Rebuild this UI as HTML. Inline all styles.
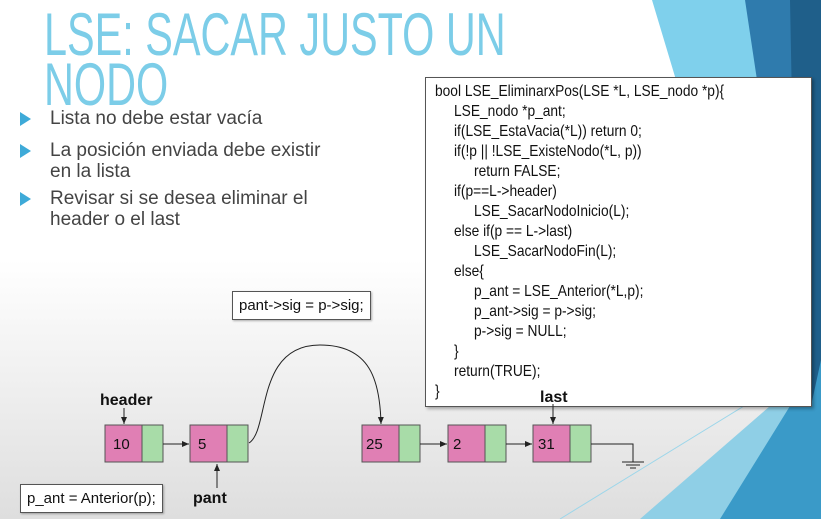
<!DOCTYPE html>
<html><head><meta charset="utf-8"><style>
body{margin:0;width:821px;height:519px;overflow:hidden;position:relative;font-family:"Liberation Sans",sans-serif;background:linear-gradient(#ffffff 0%,#ffffff 50%,#dedede 100%)}
.abs{position:absolute;white-space:nowrap}
.title{color:#7ccde8;font-size:60px;transform-origin:0 0;transform:scaleX(0.69);left:44px}
.bul{font-size:19px;color:#444;left:50px;line-height:21px}
.tri{position:absolute;left:20px;width:0;height:0;border-left:11px solid #3eaad8;border-top:7px solid transparent;border-bottom:7px solid transparent}
.code{left:425px;top:77px;width:385px;height:328px;border:1px solid #555;background:#fff;box-shadow:2px 2px 3px rgba(0,0,0,.3)}
.cl{position:absolute;font-size:16px;color:#111;transform-origin:0 0;transform:scaleX(0.86);white-space:nowrap}
.lab{font-size:15px;color:#111;border:1px solid #555;background:#fff;padding:0 6px;box-shadow:1px 1px 2px rgba(0,0,0,.3)}
</style></head><body>
<svg class="abs" style="left:0;top:0" width="821" height="519">
<polygon points="652,0 745,0 821,160 821,300 700,160" fill="#7fd0ec"/>
<polygon points="745,0 821,0 821,519 790,519 770,406 790,300" fill="#2f7bad"/>
<polygon points="790,0 821,0 821,519 800,519" fill="#1f5f8a"/>
<polygon points="640,519 770,406 811,406 811,519" fill="#8fcfe6"/>
<polygon points="720,519 790,406 811,406 821,360 821,519" fill="#3a9ac8"/>
<line x1="560" y1="519" x2="770" y2="390" stroke="#9cd6ea" stroke-width="1"/>
</svg>
<div class="abs title" style="top:0px">LSE: SACAR JUSTO UN</div>
<div class="abs title" style="top:50px">NODO</div>
<div class="tri" style="top:112px"></div><div class="abs bul" style="top:108px">Lista no debe estar vacía</div>
<div class="tri" style="top:144px"></div><div class="abs bul" style="top:140px">La posición enviada debe existir<br>en la lista</div>
<div class="tri" style="top:192px"></div><div class="abs bul" style="top:188px">Revisar si se desea eliminar el<br>header o el last</div>
<div class="abs code">
<div class="cl" style="left:9px;top:5px">bool LSE_EliminarxPos(LSE *L, LSE_nodo *p){</div>
<div class="cl" style="left:28px;top:25px">LSE_nodo *p_ant;</div>
<div class="cl" style="left:28px;top:45px">if(LSE_EstaVacia(*L)) return 0;</div>
<div class="cl" style="left:28px;top:65px">if(!p || !LSE_ExisteNodo(*L, p))</div>
<div class="cl" style="left:48px;top:85px">return FALSE;</div>
<div class="cl" style="left:28px;top:105px">if(p==L-&gt;header)</div>
<div class="cl" style="left:48px;top:125px">LSE_SacarNodoInicio(L);</div>
<div class="cl" style="left:28px;top:145px">else if(p == L-&gt;last)</div>
<div class="cl" style="left:48px;top:165px">LSE_SacarNodoFin(L);</div>
<div class="cl" style="left:28px;top:185px">else{</div>
<div class="cl" style="left:48px;top:205px">p_ant = LSE_Anterior(*L,p);</div>
<div class="cl" style="left:48px;top:225px">p_ant-&gt;sig = p-&gt;sig;</div>
<div class="cl" style="left:48px;top:245px">p-&gt;sig = NULL;</div>
<div class="cl" style="left:28px;top:265px">}</div>
<div class="cl" style="left:28px;top:285px">return(TRUE);</div>
<div class="cl" style="left:9px;top:305px">}</div>
</div>
<div class="abs lab" style="left:232px;top:291px;height:27px;line-height:27px">pant-&gt;sig = p-&gt;sig;</div>
<div class="abs lab" style="left:20px;top:484px;height:27px;line-height:27px">p_ant = Anterior(p);</div>
<svg class="abs" style="left:0;top:0" width="821" height="519">
<defs><marker id="a" markerWidth="8" markerHeight="8" refX="7" refY="4" orient="auto" markerUnits="userSpaceOnUse"><path d="M0,1 L7,4 L0,7z" fill="#222"/></marker></defs>
<g stroke="#555" stroke-width="1">
<rect x="105" y="425" width="37" height="37" fill="#e07fb4"/><rect x="142" y="425" width="21" height="37" fill="#a8dca8"/>
<rect x="190" y="425" width="37" height="37" fill="#e07fb4"/><rect x="227" y="425" width="21" height="37" fill="#a8dca8"/>
<rect x="362" y="425" width="37" height="37" fill="#e07fb4"/><rect x="399" y="425" width="21" height="37" fill="#a8dca8"/>
<rect x="448" y="425" width="37" height="37" fill="#e07fb4"/><rect x="485" y="425" width="21" height="37" fill="#a8dca8"/>
<rect x="533" y="425" width="37" height="37" fill="#e07fb4"/><rect x="570" y="425" width="21" height="37" fill="#a8dca8"/>
</g>
<g stroke="#222" stroke-width="1" fill="none">
<line x1="163" y1="444" x2="189" y2="444" marker-end="url(#a)"/>
<line x1="420" y1="444" x2="447" y2="444" marker-end="url(#a)"/>
<line x1="506" y1="444" x2="532" y2="444" marker-end="url(#a)"/>
<line x1="124" y1="408" x2="124" y2="424" marker-end="url(#a)"/>
<line x1="553" y1="404" x2="553" y2="424" marker-end="url(#a)"/>
<line x1="217" y1="488" x2="217" y2="464" marker-end="url(#a)"/>
<path d="M249,443 C270,430 255,345 320,345 C370,345 380,380 381,424" marker-end="url(#a)"/>
<polyline points="591,444 633,444 633,462"/>
<line x1="622" y1="462" x2="644" y2="462"/><line x1="626" y1="465" x2="640" y2="465"/><line x1="630" y1="468" x2="636" y2="468"/>
</g>
<g font-family="Liberation Sans,sans-serif" font-size="15" fill="#111">
<text x="113" y="449">10</text><text x="198" y="449">5</text><text x="366" y="449">25</text><text x="453" y="449">2</text><text x="538" y="449">31</text>
</g>
<g font-family="Liberation Sans,sans-serif" font-size="16" font-weight="bold" fill="#111">
<text x="100" y="405">header</text><text x="540" y="402">last</text><text x="193" y="503">pant</text>
</g>
</svg>
</body></html>
